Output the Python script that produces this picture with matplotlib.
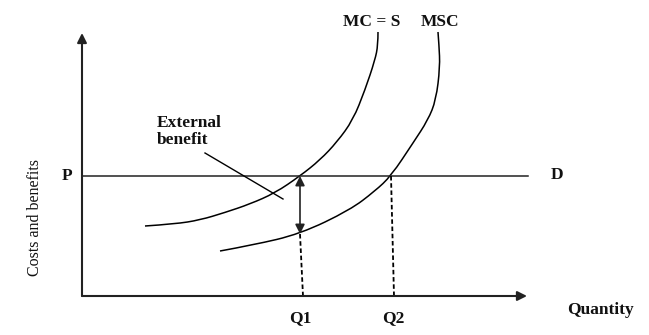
import matplotlib.pyplot as plt
from matplotlib.path import Path
from matplotlib.patches import PathPatch

plt.rcParams['font.family'] = ['Liberation Serif', 'DejaVu Serif']

# Curves (quantity, cost) with origin at axis corner
mc_q = [63, 93, 118, 143, 168, 193, 218, 238, 255, 271, 283, 293, 296, 296]
mc_c = [70, 72, 76, 83.5, 92, 103, 120, 136, 154, 176, 206, 236, 251, 264]
msc_q = [138, 171, 218, 268, 293, 309, 331, 346, 354, 358, 357, 356]
msc_c = [45, 51, 62, 86, 105, 120, 153, 176, 196, 229, 251, 264]

price = 120
q1, q2 = 218, 309
mc_at_q1 = 120
msc_at_q1 = 62
axis_len_x, axis_len_y = 445, 263
demand_end = 446


def smooth_curve(ax, xs, ys, **kw):
    # quadratic bezier through midpoints, read points used as control points
    verts = [(xs[0], ys[0])]
    codes = [Path.MOVETO]
    for i in range(1, len(xs) - 1):
        mid = ((xs[i] + xs[i + 1]) / 2, (ys[i] + ys[i + 1]) / 2)
        if i == len(xs) - 2:
            mid = (xs[-1], ys[-1])
        verts += [(xs[i], ys[i]), mid]
        codes += [Path.CURVE3, Path.CURVE3]
    ax.add_patch(PathPatch(Path(verts, codes), fill=False, **kw))


fig = plt.figure(figsize=(6.49, 3.35), dpi=100)
ax = fig.add_axes([0, 0, 1, 1])
ax.set_xlim(-82, 567)
ax.set_ylim(-39, 296)
ax.axis('off')

# axes with arrows
ax.annotate('', xy=(0, axis_len_y), xytext=(0, 0),
            arrowprops=dict(arrowstyle='-|>', color='#222222', lw=1.5,
                            mutation_scale=14, shrinkA=0, shrinkB=0))
ax.annotate('', xy=(axis_len_x, 0), xytext=(0, 0),
            arrowprops=dict(arrowstyle='-|>', color='#222222', lw=1.5,
                            mutation_scale=14, shrinkA=0, shrinkB=0))

# demand / price line
ax.plot([0, demand_end], [price, price], color='#222222', lw=1.1)

# cost curves
smooth_curve(ax, mc_q, mc_c, edgecolor='black', lw=1.1)
smooth_curve(ax, msc_q, msc_c, edgecolor='black', lw=1.1)

# dashed drop lines
ax.plot([q1, q1 + 3], [msc_at_q1, 0], color='black', lw=1.3, ls=(0, (2.5, 1.5)))
ax.plot([q2, q2 + 3], [price, 0], color='black', lw=1.3, ls=(0, (2.5, 1.5)))

# external benefit double arrow
ax.annotate('', xy=(q1, mc_at_q1), xytext=(q1, msc_at_q1),
            arrowprops=dict(arrowstyle='<|-|>', color='#222222', lw=1.2,
                            mutation_scale=14, shrinkA=0, shrinkB=0))

# label pointer
ax.plot([123, 201], [143, 97], color='black', lw=1.0)

bold = dict(fontsize=12.5, fontweight='bold', color='#111111')
ax.text(75, 181, 'External\nbenefit', ha='left', va='top', linespacing=1.1, **bold)
ax.text(290, 274, 'MC = S', ha='center', va='center', **bold)
ax.text(358, 274, 'MSC', ha='center', va='center', **bold)
ax.text(-15, price, 'P', ha='center', va='center', **bold)
ax.text(475, price + 1, 'D', ha='center', va='center', **bold)
ax.text(q1, -22, 'Q1', ha='center', va='center', **bold)
ax.text(q2 + 2, -22, 'Q2', ha='center', va='center', **bold)
ax.text(518, -14, 'Quantity', ha='center', va='center', **bold)
ax.text(-47, 78, 'Costs and benefits', rotation=90, ha='center', va='center',
        fontsize=11.5, color='#111111')

fig.savefig('out.png', dpi=100)
